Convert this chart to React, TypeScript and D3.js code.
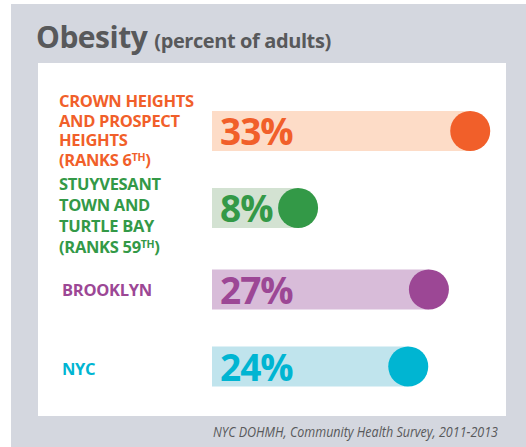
import React from "react";
import * as d3 from "d3";

const labels: string[][] = [
  ["CROWN HEIGHTS", "AND PROSPECT", "HEIGHTS", "(RANKS 6|TH|)"],
  ["STUYVESANT", "TOWN AND", "TURTLE BAY", "(RANKS 59|TH|)"],
  ["BROOKLYN"],
  ["NYC"],
];
const values = [33, 8, 27, 24];
const valueLabels = ["33%", "8%", "27%", "24%"];
const mainColors = ["#f15f2a", "#339947", "#9c4795", "#00b5d2"];
const lightColors = ["#fddcc7", "#d3e2d2", "#d8bcd9", "#c0e4ed"];

const W = 526;
const H = 447;
const FONT = "'Open Sans', 'DejaVu Sans', sans-serif";

export default function App() {
  const x = d3.scaleLinear().domain([0, 35]).range([243, 484]);
  const barH = 40;
  const barX = 212;
  const r = 20;
  const labelBase = [107, 190, 296, 375];
  const labelX = [59, 59, 62, 62];
  const lineGap = [19.5, 21, 0, 0];
  const centers = [131, 208, 289.5, 366.5];

  return (
    <svg width={W} height={H} style={{ position: "absolute", left: 0, top: 0 }} fontFamily={FONT}>
      <rect x={0} y={0} width={W} height={H} fill="#ffffff" />
      <rect x={11} y={4} width={W - 11} height={H - 4} fill="#d4d7df" />
      <rect x={38} y={63} width={468} height={353} fill="#ffffff" />
      <text x={36} y={48} fill="#58595b" fontWeight={700} fontSize={30} letterSpacing={-0.5}>
        Obesity
        <tspan dx={7} fontSize={20} letterSpacing={-0.4}>(percent of adults)</tspan>
      </text>
      {values.map((v, i) => {
        const cy = centers[i];
        const cx = x(v);
        return (
          <g key={i}>
            <rect x={barX} y={cy - barH / 2} width={cx - barX} height={barH} fill={lightColors[i]} />
            <circle cx={cx} cy={cy} r={r} fill={mainColors[i]} />
            <text x={220} y={cy + 14} fill={mainColors[i]} fontWeight={700} fontSize={37} letterSpacing={-1}>
              {valueLabels[i]}
            </text>
            <text fill={mainColors[i]} fontWeight={700} fontSize={16.5} letterSpacing={-0.3}>
              {labels[i].map((line, j) => {
                const parts = line.split("|");
                return (
                  <tspan key={j} x={labelX[i]} y={labelBase[i] + j * lineGap[i]}>
                    {parts[0]}
                    {parts.length > 1 && (
                      <tspan fontSize={10.5} dy={-5}>{parts[1]}</tspan>
                    )}
                    {parts.length > 2 && <tspan dy={5}>{parts[2]}</tspan>}
                  </tspan>
                );
              })}
            </text>
          </g>
        );
      })}
      <text x={498} y={437} textAnchor="end" fill="#58595b" fontStyle="italic" fontSize={14} textLength={285} lengthAdjust="spacingAndGlyphs">
        NYC DOHMH, Community Health Survey, 2011-2013
      </text>
    </svg>
  );
}
